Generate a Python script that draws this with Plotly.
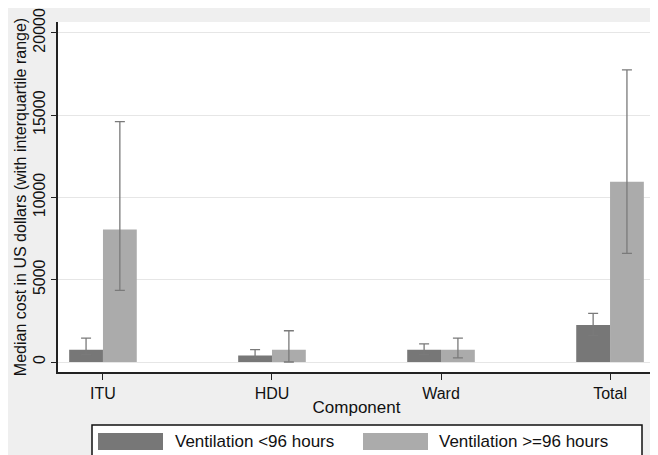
import plotly.graph_objects as go

categories = ["ITU", "HDU", "Ward", "Total"]
series_names = ["Ventilation <96 hours", "Ventilation >=96 hours"]

median_short = [750, 400, 750, 2250]
q1_short = [450, 200, 450, 1600]
q3_short = [1450, 750, 1100, 2950]

median_long = [8050, 750, 750, 10950]
q1_long = [4350, 0, 250, 6600]
q3_long = [14600, 1900, 1450, 17750]

y_ticks = [0, 5000, 10000, 15000, 20000]
y_tick_labels = ["0", "5000", "10000", "15000", "20000"]

dark = "#777777"
light = "#ababab"
err_col = "#7a7a7a"
font_fam = "Liberation Sans, Arial, sans-serif"

fig = go.Figure()
for name, med, lo, hi, col in [
    (series_names[0], median_short, q1_short, q3_short, dark),
    (series_names[1], median_long, q1_long, q3_long, light),
]:
    fig.add_trace(go.Bar(
        x=categories, y=med, name=name, marker=dict(color=col, line=dict(width=0)),
        error_y=dict(type="data", symmetric=False,
                     array=[h - m for h, m in zip(hi, med)],
                     arrayminus=[m - l for m, l in zip(med, lo)],
                     color=err_col, thickness=1.3, width=5),
    ))

# page has an 8px body margin, so the figure is 8px smaller and shifted by 8px
fig.update_layout(
    width=650, height=447,
    margin=dict(l=50, r=3, t=14, b=83),
    paper_bgcolor="#efefef", plot_bgcolor="white",
    barmode="group", bargap=0.6, bargroupgap=0,
    showlegend=False,
    font=dict(family=font_fam, size=16, color="#111111"),
    xaxis=dict(range=[-0.266, 3.266], showline=True, linecolor="#222222", linewidth=1.5,
               ticks="outside", ticklen=6, tickcolor="#222222", automargin=False,
               tickfont=dict(size=16), showgrid=False,
               title=dict(text="Component", font=dict(size=17), standoff=0)),
    yaxis=dict(range=[-607, 20656], tickvals=y_ticks, ticktext=y_tick_labels, tickangle=-90,
               showline=True, linecolor="#222222", linewidth=1.5, automargin=False,
               ticks="outside", ticklen=5, tickcolor="#222222",
               tickfont=dict(size=16), showgrid=True, gridcolor="#e6e6e6", gridwidth=1,
               zeroline=False,
               title=dict(text="Median cost in US dollars (with interquartile range)",
                          font=dict(size=16), standoff=0)),
)

# legend box drawn to mimic the original large swatches (page pixel -> paper coords)
def px_to_paper_x(px):
    return (px - 58) / 597.0

def px_to_paper_y(py):
    return (372 - py) / 350.0

fig.add_shape(type="rect", xref="paper", yref="paper",
              x0=px_to_paper_x(92), x1=px_to_paper_x(642),
              y0=px_to_paper_y(462), y1=px_to_paper_y(425),
              line=dict(color="#111111", width=1.5), fillcolor="white", layer="below")
for sx, tx, col, name in [(98, 173, dark, series_names[0]), (363, 437, light, series_names[1])]:
    fig.add_shape(type="rect", xref="paper", yref="paper",
                  x0=px_to_paper_x(sx), x1=px_to_paper_x(sx + 65),
                  y0=px_to_paper_y(450), y1=px_to_paper_y(433),
                  line=dict(width=0), fillcolor=col)
    fig.add_annotation(xref="paper", yref="paper", x=px_to_paper_x(tx), y=px_to_paper_y(441),
                       text=name, showarrow=False, xanchor="left", yanchor="middle",
                       font=dict(size=17, color="#111111"))

fig.write_html("out.html")
